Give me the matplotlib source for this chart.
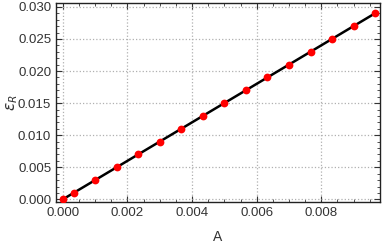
import matplotlib
matplotlib.use('Agg')
import matplotlib.pyplot as plt
from matplotlib.ticker import MultipleLocator, FormatStrFormatter

# data
A = [0.0, 0.000333, 0.001, 0.001667, 0.002333, 0.003, 0.003667, 0.004333,
     0.005, 0.005667, 0.006333, 0.007, 0.007667, 0.008333, 0.009, 0.009667]
eps_R = [0.0, 0.001, 0.003, 0.005, 0.007, 0.009, 0.011, 0.013,
         0.015, 0.017, 0.019, 0.021, 0.023, 0.025, 0.027, 0.029]

plt.rcParams['font.family'] = ['Liberation Sans', 'DejaVu Sans']
plt.rcParams['mathtext.fontset'] = 'dejavusans'

fig = plt.figure(figsize=(3.82, 2.43), dpi=100)
ax = fig.add_axes([0.1466, 0.169, 0.8484, 0.8187])

ax.plot(A, eps_R, color='black', linewidth=1.8, zorder=2)
ax.plot(A, eps_R, 'o', color='#ff0000', markersize=5.6, markeredgewidth=0, zorder=3)

ax.set_xlim(-0.00021, 0.00982)
ax.set_ylim(-0.0004, 0.0306)

ax.xaxis.set_major_locator(MultipleLocator(0.002))
ax.xaxis.set_minor_locator(MultipleLocator(0.0005))
ax.yaxis.set_major_locator(MultipleLocator(0.005))
ax.yaxis.set_minor_locator(MultipleLocator(0.001))
ax.xaxis.set_major_formatter(FormatStrFormatter('%.3f'))
ax.yaxis.set_major_formatter(FormatStrFormatter('%.3f'))

ax.tick_params(which='both', direction='in', top=True, right=True,
               color='#333333', labelcolor='#333333', labelsize=9.5)
ax.tick_params(which='major', length=4, width=0.8)
ax.tick_params(which='minor', length=2.5, width=0.6)

ax.grid(True, which='major', linestyle=':', color='#b0b0b0', linewidth=0.9)
for s in ax.spines.values():
    s.set_color('#222222')
    s.set_linewidth(1.0)

ax.set_xlabel('A', fontsize=10, color='#333333', labelpad=8)
ax.set_ylabel(r'$\epsilon_R$', fontsize=11, color='#333333')
ax.yaxis.set_label_coords(-0.112, 0.5)

fig.savefig('out.png', dpi=100)
